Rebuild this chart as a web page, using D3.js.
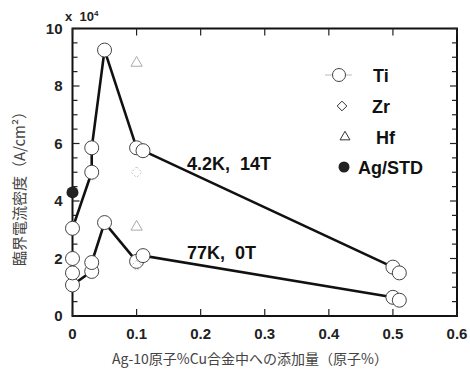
<!DOCTYPE html>
<html>
<head>
<meta charset="utf-8">
<script src="https://cdn.jsdelivr.net/npm/d3@7"></script>
<style>
  body { margin: 0; background: #fff; }
  svg { display: block; }
  .tick-label { font-family: "Liberation Sans", Arial, sans-serif; font-weight: bold; font-size: 15px; fill: #222; }
  .line { fill: none; stroke: #111; stroke-width: 2.6px; }
</style>
</head>
<body>
<svg id="chart" width="470" height="373"></svg>
<script>
// additive amount (atomic %) and critical current density (x 10^4 A/cm2)
var hiX = [0, 0.03, 0.03, 0.05, 0.10, 0.11, 0.50];
var hiY = [3.05, 5.0, 5.85, 9.25, 5.85, 5.75, 1.7];
var hiExtraX = [0.51];
var hiExtraY = [1.5];

var lowX = [0, 0.03, 0.03, 0.05, 0.10, 0.11, 0.50];
var lowY = [1.08, 1.55, 1.86, 3.25, 1.9, 2.1, 0.65];
var lowExtraX = [0, 0, 0.51];
var lowExtraY = [2.0, 1.5, 0.55];

var zrX = [0.10, 0.10];
var zrY = [5.0, 1.75];
var hfX = [0.10, 0.10];
var hfY = [8.8, 3.1];
var stdX = [0];
var stdY = [4.3];

var xTicks = [0, 0.1, 0.2, 0.3, 0.4, 0.5, 0.6];
var yTicks = [0, 2, 4, 6, 8, 10];
var legendNames = ["Ti", "Zr", "Hf", "Ag/STD"];

var svg = d3.select("svg#chart"),
    margin = {top: 28.5, right: 13, bottom: 57, left: 72.5},
    width = +svg.attr("width") - margin.left - margin.right,
    height = +svg.attr("height") - margin.top - margin.bottom;

var x = d3.scaleLinear().domain([0, 0.6]).range([0, width]);
var y = d3.scaleLinear().domain([0, 10]).range([height, 0]);

var g = svg.append("g")
    .attr("transform", "translate(" + margin.left + "," + margin.top + ")");

// frame
g.append("rect")
    .attr("width", width)
    .attr("height", height)
    .attr("fill", "none")
    .attr("stroke", "#111")
    .attr("stroke-width", 2);

// inward ticks on all sides
var minorY = d3.range(0, 10.01, 0.5);
g.selectAll(".ytl").data(minorY).enter().append("line")
    .attr("x1", 0).attr("x2", function(d) { return d % 2 === 0 ? 7 : 5; })
    .attr("y1", function(d) { return y(d); }).attr("y2", function(d) { return y(d); })
    .attr("stroke", "#222").attr("stroke-width", 1.2);
g.selectAll(".ytr").data(minorY).enter().append("line")
    .attr("x1", width).attr("x2", function(d) { return width - (d % 2 === 0 ? 7 : 5); })
    .attr("y1", function(d) { return y(d); }).attr("y2", function(d) { return y(d); })
    .attr("stroke", "#222").attr("stroke-width", 1.2);
g.selectAll(".xtb").data(xTicks).enter().append("line")
    .attr("x1", function(d) { return x(d); }).attr("x2", function(d) { return x(d); })
    .attr("y1", height).attr("y2", height - 7)
    .attr("stroke", "#222").attr("stroke-width", 1.2);
g.selectAll(".xtt").data(xTicks).enter().append("line")
    .attr("x1", function(d) { return x(d); }).attr("x2", function(d) { return x(d); })
    .attr("y1", 0).attr("y2", 7)
    .attr("stroke", "#222").attr("stroke-width", 1.2);

// tick labels
g.selectAll(".xl").data(xTicks).enter().append("text")
    .attr("class", "tick-label")
    .attr("x", function(d) { return x(d); })
    .attr("y", height + 23)
    .attr("text-anchor", "middle")
    .text(function(d) { return d === 0 ? "0" : d3.format(".1f")(d); });

g.selectAll(".yl").data(yTicks).enter().append("text")
    .attr("class", "tick-label")
    .attr("x", -10)
    .attr("y", function(d) { return y(d) + 5; })
    .attr("text-anchor", "end")
    .text(function(d) { return d; });

// x 10^4
var mult = svg.append("text")
    .attr("x", 65).attr("y", 21)
    .attr("class", "tick-label")
    .style("font-size", "13px");
mult.append("tspan").text("x\u00a0\u00a010");
mult.append("tspan").attr("dy", -5).style("font-size", "8px").text("4");

// axis titles
svg.append("text")
    .attr("transform", "translate(25,185) rotate(-90)")
    .attr("text-anchor", "middle")
    .style("font-family", "'Noto Sans CJK JP', sans-serif")
    .style("font-size", "15px")
    .attr("fill", "#444")
    .text("臨界電流密度（A/cm²）");

svg.append("text")
    .attr("x", 250).attr("y", 364)
    .attr("text-anchor", "middle")
    .style("font-family", "'Noto Sans CJK JP', sans-serif")
    .style("font-size", "14px")
    .attr("fill", "#444")
    .text("Ag-10原子%Cu合金中への添加量（原子%）");

// lines
var line = d3.line()
    .x(function(d) { return x(d[0]); })
    .y(function(d) { return y(d[1]); });

g.append("path").datum(d3.zip(hiX, hiY)).attr("class", "line").attr("d", line);
g.append("path").datum(d3.zip(lowX, lowY)).attr("class", "line").attr("d", line);

// markers
var tiPts = d3.zip(hiX, hiY).concat(d3.zip(hiExtraX, hiExtraY))
    .concat(d3.zip(lowX, lowY)).concat(d3.zip(lowExtraX, lowExtraY));
g.selectAll(".ti").data(tiPts).enter().append("circle")
    .attr("cx", function(d) { return x(d[0]); })
    .attr("cy", function(d) { return y(d[1]); })
    .attr("r", 7)
    .attr("fill", "#fff")
    .attr("stroke", "#444")
    .attr("stroke-width", 1);

var diamond = d3.symbol().type(d3.symbolDiamond2).size(70);
g.selectAll(".zr").data(d3.zip(zrX, zrY)).enter().append("path")
    .attr("transform", function(d) { return "translate(" + x(d[0]) + "," + y(d[1]) + ")"; })
    .attr("d", diamond)
    .attr("fill", "none")
    .attr("stroke", "#bbb")
    .attr("stroke-dasharray", "2,2");

var tri = d3.symbol().type(d3.symbolTriangle2).size(90);
g.selectAll(".hf").data(d3.zip(hfX, hfY)).enter().append("path")
    .attr("transform", function(d) { return "translate(" + x(d[0]) + "," + y(d[1]) + ")"; })
    .attr("d", tri)
    .attr("fill", "none")
    .attr("stroke", "#aaa");

g.selectAll(".std").data(d3.zip(stdX, stdY)).enter().append("circle")
    .attr("cx", function(d) { return x(d[0]); })
    .attr("cy", function(d) { return y(d[1]); })
    .attr("r", 6)
    .attr("fill", "#222");

// annotations
svg.append("text").attr("x", 187).attr("y", 170)
    .style("font-family", "'Liberation Sans', Arial, sans-serif")
    .style("font-weight", "bold").style("font-size", "18px")
    .attr("fill", "#111")
    .text("4.2K,\u00a0\u00a014T");
svg.append("text").attr("x", 187).attr("y", 259)
    .style("font-family", "'Liberation Sans', Arial, sans-serif")
    .style("font-weight", "bold").style("font-size", "18px")
    .attr("fill", "#111")
    .text("77K,\u00a0\u00a00T");

// legend
var leg = svg.append("g");
var legY = [75, 106, 137, 167];
leg.append("line").attr("x1", 325).attr("x2", 352).attr("y1", legY[0]).attr("y2", legY[0])
    .attr("stroke", "#bbb").attr("stroke-width", 1);
leg.append("circle").attr("cx", 339).attr("cy", legY[0]).attr("r", 6.5)
    .attr("fill", "#fff").attr("stroke", "#444");
leg.append("path").attr("transform", "translate(342," + legY[1] + ")")
    .attr("d", d3.symbol().type(d3.symbolDiamond2).size(60))
    .attr("fill", "none").attr("stroke", "#333");
leg.append("path").attr("transform", "translate(345," + legY[2] + ")")
    .attr("d", d3.symbol().type(d3.symbolTriangle2).size(70))
    .attr("fill", "none").attr("stroke", "#333");
leg.append("circle").attr("cx", 344).attr("cy", legY[3]).attr("r", 5.5)
    .attr("fill", "#222");

var legX = [373, 372, 376, 358];
leg.selectAll(".lt").data(legendNames).enter().append("text")
    .attr("x", function(d, i) { return legX[i]; })
    .attr("y", function(d, i) { return legY[i] + 7; })
    .style("font-family", "'Liberation Sans', Arial, sans-serif")
    .style("font-weight", "bold").style("font-size", "18px")
    .attr("fill", "#111")
    .text(function(d) { return d; });
</script>
</body>
</html>
